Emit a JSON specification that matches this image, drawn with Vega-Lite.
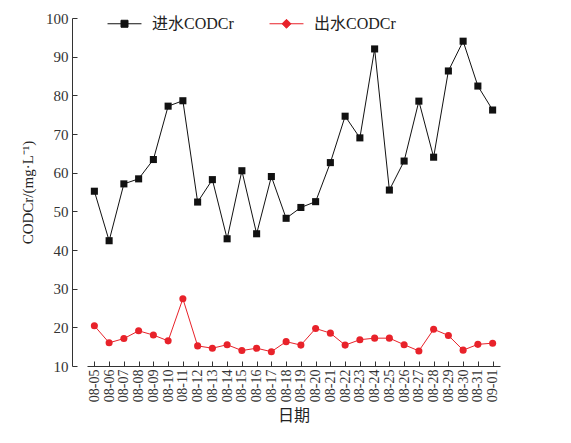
{
  "$schema": "https://vega.github.io/schema/vega-lite/v6.json",
  "autosize": {"type": "none"},
  "width": 431,
  "height": 348,
  "padding": {"left": 72, "top": 18, "right": 68, "bottom": 77},
  "background": "white",
  "config": {
    "view": {"stroke": null},
    "font": "Liberation Serif",
    "axis": {"grid": false, "domainColor": "#333", "tickColor": "#333", "labelColor": "#333", "titleColor": "#222", "labelFont": "Liberation Serif", "titleFontWeight": "normal"}
  },
  "data": {
    "values": [
      {"date": "08-05", "series": "进水CODCr", "value": 55.2},
      {"date": "08-06", "series": "进水CODCr", "value": 42.4},
      {"date": "08-07", "series": "进水CODCr", "value": 57.1},
      {"date": "08-08", "series": "进水CODCr", "value": 58.4},
      {"date": "08-09", "series": "进水CODCr", "value": 63.4},
      {"date": "08-10", "series": "进水CODCr", "value": 77.2},
      {"date": "08-11", "series": "进水CODCr", "value": 78.6},
      {"date": "08-12", "series": "进水CODCr", "value": 52.4},
      {"date": "08-13", "series": "进水CODCr", "value": 58.2},
      {"date": "08-14", "series": "进水CODCr", "value": 42.9},
      {"date": "08-15", "series": "进水CODCr", "value": 60.5},
      {"date": "08-16", "series": "进水CODCr", "value": 44.2},
      {"date": "08-17", "series": "进水CODCr", "value": 59.0},
      {"date": "08-18", "series": "进水CODCr", "value": 48.2},
      {"date": "08-19", "series": "进水CODCr", "value": 51.0},
      {"date": "08-20", "series": "进水CODCr", "value": 52.5},
      {"date": "08-21", "series": "进水CODCr", "value": 62.6},
      {"date": "08-22", "series": "进水CODCr", "value": 74.6},
      {"date": "08-23", "series": "进水CODCr", "value": 69.0},
      {"date": "08-24", "series": "进水CODCr", "value": 92.0},
      {"date": "08-25", "series": "进水CODCr", "value": 55.5},
      {"date": "08-26", "series": "进水CODCr", "value": 63.0},
      {"date": "08-27", "series": "进水CODCr", "value": 78.5},
      {"date": "08-28", "series": "进水CODCr", "value": 64.0},
      {"date": "08-29", "series": "进水CODCr", "value": 86.3},
      {"date": "08-30", "series": "进水CODCr", "value": 94.0},
      {"date": "08-31", "series": "进水CODCr", "value": 82.4},
      {"date": "09-01", "series": "进水CODCr", "value": 76.2},
      {"date": "08-05", "series": "出水CODCr", "value": 20.4},
      {"date": "08-06", "series": "出水CODCr", "value": 16.0},
      {"date": "08-07", "series": "出水CODCr", "value": 17.1},
      {"date": "08-08", "series": "出水CODCr", "value": 19.1},
      {"date": "08-09", "series": "出水CODCr", "value": 18.0},
      {"date": "08-10", "series": "出水CODCr", "value": 16.5},
      {"date": "08-11", "series": "出水CODCr", "value": 27.4},
      {"date": "08-12", "series": "出水CODCr", "value": 15.2},
      {"date": "08-13", "series": "出水CODCr", "value": 14.6},
      {"date": "08-14", "series": "出水CODCr", "value": 15.5},
      {"date": "08-15", "series": "出水CODCr", "value": 14.0},
      {"date": "08-16", "series": "出水CODCr", "value": 14.6},
      {"date": "08-17", "series": "出水CODCr", "value": 13.7},
      {"date": "08-18", "series": "出水CODCr", "value": 16.3},
      {"date": "08-19", "series": "出水CODCr", "value": 15.4},
      {"date": "08-20", "series": "出水CODCr", "value": 19.7},
      {"date": "08-21", "series": "出水CODCr", "value": 18.5},
      {"date": "08-22", "series": "出水CODCr", "value": 15.4},
      {"date": "08-23", "series": "出水CODCr", "value": 16.8},
      {"date": "08-24", "series": "出水CODCr", "value": 17.2},
      {"date": "08-25", "series": "出水CODCr", "value": 17.2},
      {"date": "08-26", "series": "出水CODCr", "value": 15.5},
      {"date": "08-27", "series": "出水CODCr", "value": 13.9},
      {"date": "08-28", "series": "出水CODCr", "value": 19.5},
      {"date": "08-29", "series": "出水CODCr", "value": 17.9},
      {"date": "08-30", "series": "出水CODCr", "value": 14.1},
      {"date": "08-31", "series": "出水CODCr", "value": 15.6},
      {"date": "09-01", "series": "出水CODCr", "value": 15.9}
    ]
  },
  "encoding": {
    "x": {
      "field": "date", "type": "ordinal",
      "scale": {"type": "point", "range": [15, 428]},
      "axis": {"title": "日期", "titleFont": "Noto Sans CJK SC", "titleFontSize": 16, "titlePadding": 6, "labelAngle": -90, "labelFontSize": 14, "tickSize": -5, "labelPadding": 8, "labelBaseline": "middle"}
    },
    "y": {
      "field": "value", "type": "quantitative",
      "scale": {"domain": [10, 100], "nice": false, "zero": false},
      "axis": {"title": "CODCr/(mg·L⁻¹)", "titleFont": "Liberation Serif", "titleFontSize": 15, "titlePadding": 10, "values": [10, 20, 30, 40, 50, 60, 70, 80, 90, 100], "labelFontSize": 15, "tickSize": -5, "labelPadding": 9}
    },
    "color": {
      "field": "series", "type": "nominal",
      "scale": {"domain": ["进水CODCr", "出水CODCr"], "range": ["#111111", "#e8222a"]}
    }
  },
  "layer": [
    {
      "mark": {"type": "line", "strokeWidth": 1},
      "encoding": {
        "color": {
          "field": "series", "type": "nominal",
          "scale": {"domain": ["进水CODCr", "出水CODCr"], "range": ["#111111", "#e8222a"]},
          "legend": {
            "title": null, "orient": "none", "direction": "horizontal",
            "legendX": 41, "legendY": -6,
            "symbolSize": 450, "symbolStrokeWidth": 1,
            "labelFont": "Liberation Serif, Noto Sans CJK SC", "labelFontSize": 16, "labelColor": "#222",
            "labelOffset": 16, "columnPadding": 33,
            "encode": {
              "symbols": {
                "update": {
                  "shape": {"signal": "datum.value === '进水CODCr' ? 'M-1.6,0H1.6M-0.33,-0.33H0.33V0.33H-0.33Z' : 'M-1.6,0H1.6M0,-0.42L0.42,0L0,0.42L-0.42,0Z'"},
                  "fillOpacity": {"value": 1}
                }
              }
            }
          }
        }
      }
    },
    {
      "transform": [{"filter": "datum.series === '进水CODCr'"}],
      "mark": {"type": "square", "opacity": 1, "size": 50}
    },
    {
      "transform": [{"filter": "datum.series === '出水CODCr'"}],
      "mark": {"type": "circle", "opacity": 1, "size": 50}
    }
  ]
}
